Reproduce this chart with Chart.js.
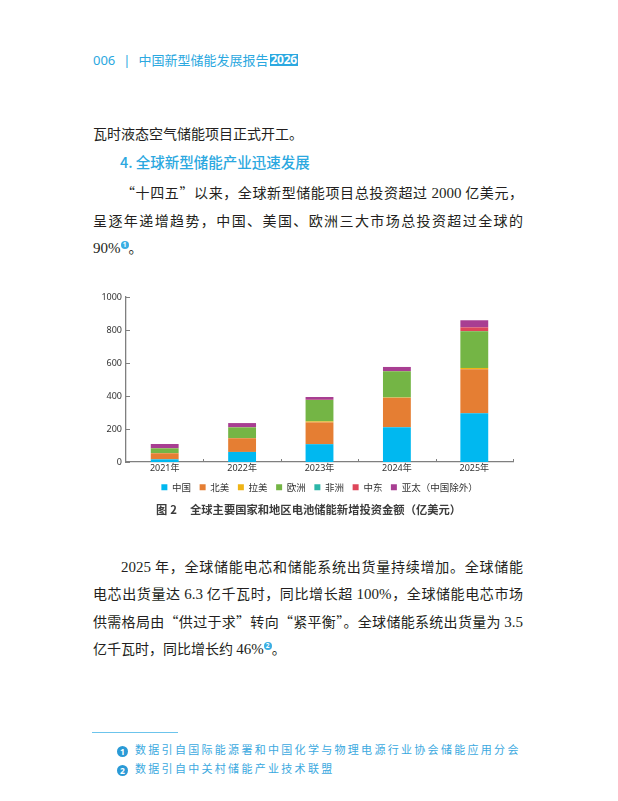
<!DOCTYPE html>
<html lang="zh-CN">
<head>
<meta charset="utf-8">
<title>全球主要国家和地区电池储能新增投资金额</title>
<script src="https://cdn.jsdelivr.net/npm/chart.js@4.4.1/dist/chart.umd.min.js"></script>
<style>
    html, body { margin: 0; padding: 0; background: #fff; }
    body {
        width: 618px; height: 801px; position: relative; overflow: hidden;
        font-family: "Noto Sans CJK SC", sans-serif; color: #231f20;
    }
    .ln {
        position: absolute; left: 93px; width: 430px; height: 20px;
        line-height: 20px; font-size: 14px; white-space: nowrap;
    }
    .full { text-align: justify; text-align-last: justify; }
    .indent { text-indent: 28px; }
    .num { font-family: "Liberation Serif", serif; font-size: 15px; }
    .sup {
        display: inline-block; width: 8px; height: 8px; border-radius: 50%;
        background: #3aaee3; color: #fff; font: bold 6.5px/8px "Noto Sans", sans-serif;
        text-align: center; vertical-align: 6px; text-indent: 0;
    }
    #header { position: absolute; left: 93px; top: 50px; height: 20px; line-height: 20px; font-size: 13px; color: #2ba8e0; white-space: nowrap; }
    #header .pg { font-family: "Noto Sans", sans-serif; }
    #header .bar { margin: 0 8px 0 8px; font-family: "Noto Sans", sans-serif; }
    #header .yr {
        display: inline-block; background: #2ba8e0; color: #fff; font: bold 12px/12px "Noto Sans", sans-serif;
        padding: 0 1px; margin-left: 1px; vertical-align: 1px; letter-spacing: -0.3px;
    }
    #heading { position: absolute; left: 120px; top: 152px; height: 20px; line-height: 20px; font-size: 14.5px; font-weight: 500; color: #2ba8e0; white-space: nowrap; }
    #chartBox { position: absolute; left: 90px; top: 285px; width: 440px; height: 217px; }
    #caption {
        position: absolute; left: 156px; top: 500px; height: 18px; line-height: 18px;
        font-size: 11.3px; font-weight: bold; color: #3c3c3c; white-space: nowrap;
    }
    #rule { position: absolute; left: 92px; top: 732px; width: 86px; height: 1.3px; background: #6cc4ec; }
    .fn {
        position: absolute; left: 117px; height: 16px; line-height: 16px; font-size: 11px;
        color: #3ba9e0; letter-spacing: 2.3px; white-space: nowrap;
    }
    .fn .c {
        display: inline-block; width: 11px; height: 11px; border-radius: 50%; background: #2a9ad6;
        color: #fff; font: bold 8.5px/11px "Noto Sans", sans-serif; text-align: center;
        letter-spacing: 0; margin-right: 7px; vertical-align: -1px;
    }
</style>
</head>
<body>

<div id="header"><span class="pg">006</span><span class="bar">|</span>中国新型储能发展报告<span class="yr">2026</span></div>

<div class="ln" style="top:123px">瓦时液态空气储能项目正式开工。</div>
<div id="heading">4. 全球新型储能产业迅速发展</div>
<div class="ln full indent" style="top:182px">“十四五”以来，全球新型储能项目总投资超过 <span class="num">2000</span> 亿美元，</div>
<div class="ln full" style="top:210px">呈逐年递增趋势，中国、美国、欧洲三大市场总投资超过全球的</div>
<div class="ln" style="top:237px"><span class="num">90%</span><span class="sup">1</span>。</div>

<div id="chartBox"><canvas id="investChart" width="440" height="217"></canvas></div>
<div id="caption">图<span style="margin-left:3px">2</span><span style="margin-left:13px">全球主要国家和地区电池储能新增投资金额（亿美元）</span></div>

<div class="ln full indent" style="top:556px"><span class="num">2025</span> 年，全球储能电芯和储能系统出货量持续增加。全球储能</div>
<div class="ln full" style="top:583px">电芯出货量达 <span class="num">6.3</span> 亿千瓦时，同比增长超 <span class="num">100%</span>，全球储能电芯市场</div>
<div class="ln full" style="top:611px">供需格局由“供过于求”转向“紧平衡”。全球储能系统出货量为 <span class="num">3.5</span></div>
<div class="ln" style="top:638px">亿千瓦时，同比增长约 <span class="num">46%</span><span class="sup">2</span>。</div>

<div id="rule"></div>
<div class="fn" style="top:741px"><span class="c">1</span>数据引自国际能源署和中国化学与物理电源行业协会储能应用分会</div>
<div class="fn" style="top:760px"><span class="c">2</span>数据引自中关村储能产业技术联盟</div>

<script>
// values, 亿美元
const years = ["2021年", "2022年", "2023年", "2024年", "2025年"]
const china = [16, 61, 108, 211, 295]
const northAmerica = [37, 83, 132, 178, 267]
const latinAmerica = [1, 1, 6, 2, 8]
const europe = [29, 65, 130, 159, 222]
const africa = [0, 0, 0, 0, 1]
const middleEast = [1, 1, 1, 1, 23]
const asiaPacific = [25, 25, 17, 25, 43]
const yTicks = [0, 200, 400, 600, 800, 1000]

const regionNames = ["中国", "北美", "拉美", "欧洲", "非洲", "中东", "亚太（中国除外）"]
const regionColors = ["#00b8f0", "#e57e33", "#efb416", "#74b545", "#2cb6a8", "#de465a", "#a83e92"]
const regionValues = [china, northAmerica, latinAmerica, europe, africa, middleEast, asiaPacific]

const axisColor = "#7f7f7f"

Chart.defaults.font.family = '"Noto Sans", "Noto Sans CJK SC", sans-serif'
Chart.defaults.font.size = 9
Chart.defaults.color = "#333"

// ticks in the figure point inward, chart.js only draws them outward
const innerTicks = {
    id: "innerTicks",
    afterDraw(chart) {
        const { ctx, chartArea, scales: { x, y } } = chart
        ctx.save()
        ctx.strokeStyle = axisColor
        ctx.lineWidth = 1
        ctx.beginPath()
        y.ticks.forEach(t => {
            const py = Math.round(y.getPixelForValue(t.value)) + 0.5
            ctx.moveTo(chartArea.left, py)
            ctx.lineTo(chartArea.left + 4, py)
        })
        for (let i = 1; i <= years.length; i++) {
            const px = Math.round(x.left + i * x.width / years.length) + 0.5
            ctx.moveTo(px, chartArea.bottom)
            ctx.lineTo(px, chartArea.bottom - 3)
        }
        ctx.stroke()
        ctx.restore()
    }
}

new Chart(document.getElementById("investChart"), {
    type: "bar",
    data: {
        labels: years,
        datasets: regionNames.map((name, i) => ({
            label: name,
            data: regionValues[i],
            backgroundColor: regionColors[i],
            borderWidth: 0,
            barPercentage: 0.36,
            categoryPercentage: 1
        }))
    },
    options: {
        responsive: false,
        animation: false,
        layout: {
            padding: { top: 12, right: 17, bottom: 0, left: 0 }
        },
        scales: {
            x: {
                stacked: true,
                grid: { display: false, drawTicks: false },
                border: { display: true, color: axisColor, width: 1.3 },
                ticks: { padding: 1, font: { size: 9 } },
                afterFit: s => { s.height = 12 }
            },
            y: {
                stacked: true,
                min: 0,
                max: 1000,
                grid: { display: false, drawTicks: false },
                border: { display: true, color: axisColor, width: 1.3 },
                ticks: { padding: 4, font: { size: 9 }, callback: v => String(v) },
                afterBuildTicks: s => { s.ticks = yTicks.map(v => ({ value: v })) },
                afterFit: s => { s.width = 36 }
            }
        },
        plugins: {
            legend: {
                position: "bottom",
                fullSize: false,
                labels: {
                    boxWidth: 6,
                    boxHeight: 6,
                    padding: 8.5,
                    font: { size: 9.5, family: '"Noto Sans CJK SC", sans-serif' }
                }
            },
            tooltip: { enabled: false }
        }
    },
    plugins: [innerTicks]
})
</script>
</body>
</html>
